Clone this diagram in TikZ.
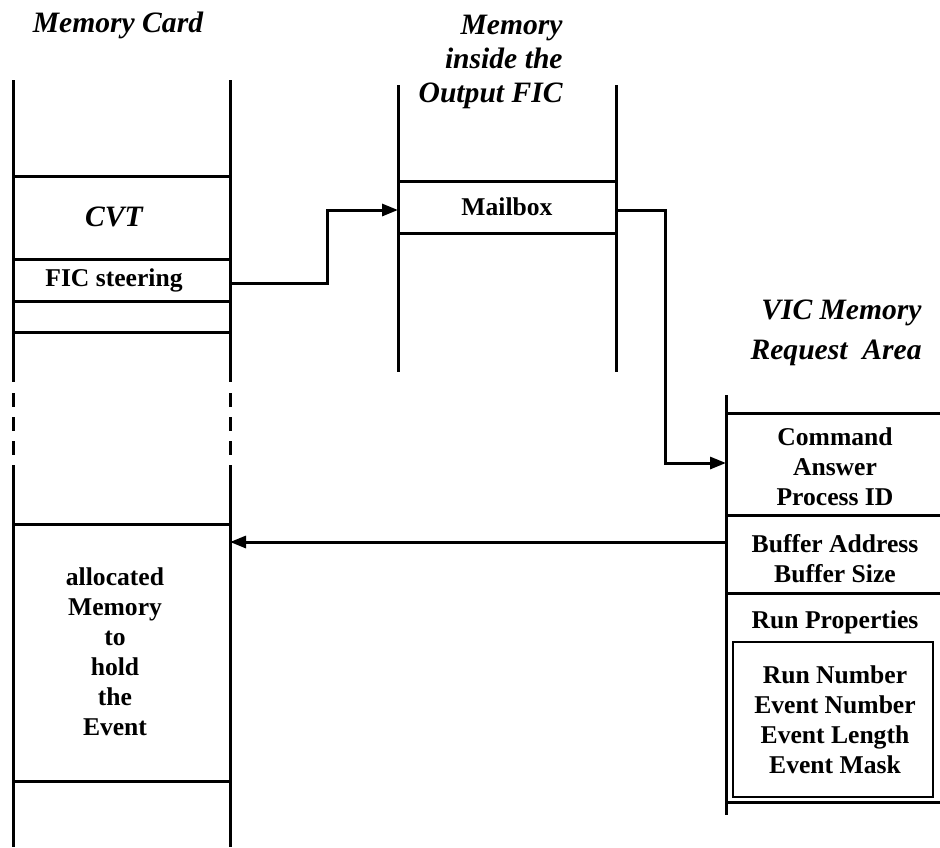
\documentclass[tikz,border=0pt]{standalone}
\usepackage{fontspec}
\setmainfont{Liberation Serif}
\usetikzlibrary{arrows.meta,positioning}
\newcommand{\lblsize}{\fontsize{12.8}{15}\selectfont}
\newcommand{\ttlsize}{\fontsize{14.8}{17}\selectfont}
\tikzset{
  wall/.style={line width=1.5pt},
  brk/.style={line width=1.5pt, dash pattern=on 7pt off 5pt},
  innerbox/.style={line width=1pt},
  arr/.style={line width=1.5pt, -{Triangle[length=8pt,width=6pt]}},
  lbl/.style={font=\lblsize\bfseries, align=center, inner sep=0pt},
  ttl/.style={font=\ttlsize\bfseries\itshape, inner sep=0pt},
}
\begin{document}
\begin{tikzpicture}[x=0.5pt,y=-0.5pt]
\useasboundingbox (0,0) rectangle (940,847);
% Memory Card column, broken in the middle
\foreach \x in {13,230} {
  \draw[wall] (\x,80) -- (\x,382);
  \draw[brk] (\x,393) -- (\x,455);
  \draw[wall] (\x,465) -- (\x,847);
}
\foreach \y in {176,259,301,332,524,781}
  \draw[wall] (13,\y) -- (230,\y);
% Memory inside the Output FIC
\foreach \x in {398,616}
  \draw[wall] (\x,85) -- (\x,372);
\foreach \y in {181,233}
  \draw[wall] (398,\y) -- (616,\y);
% VIC Memory Request Area
\draw[wall] (726,395) -- (726,815);
\foreach \y in {413,515,593,802}
  \draw[wall] (726,\y) -- (940,\y);
\draw[innerbox] (733,642) rectangle (933,797);
% titles
\node[ttl] (cardttl) at (118,25) {Memory Card};
\node[ttl, align=right, anchor=east] (ficttl) at (563,62) {Memory\\inside the\\Output FIC};
\node[ttl, align=right, anchor=east] (victtl) at (922,333) {VIC Memory\\[3pt]Request~ Area};
% cell texts
\node[ttl] (cvt) at (114,217) {CVT};
\node[lbl] (fic) at (114,280) {FIC steering};
\node[lbl] (alloc) at (115,652) {allocated\\Memory\\to\\hold\\the\\Event};
\node[lbl] (mailbox) at (507,207) {Mailbox};
\node[lbl] (cmd) at (835,467) {Command\\Answer\\Process ID};
\node[lbl] (buf) at (835,559) {Buffer Address\\Buffer Size};
\node[lbl] (runprop) at (835,622) {Run Properties};
\node[lbl] (runlist) at (835,720) {Run Number\\Event Number\\Event Length\\Event Mask};
% connector ends on the column walls
\coordinate (ficout) at (230,283);
\coordinate (mbin) at (398,210);
\coordinate (mbout) at (616,210);
\coordinate (reqin) at (726,463);
\coordinate (bufout) at (726,542);
\coordinate (allocin) at (230,542);
% arrows
\draw[arr] (ficout) -- ++(97,0) |- (mbin);
\draw[arr] (mbout) -- ++(49,0) |- (reqin);
\draw[arr] (bufout) -- (allocin);
\end{tikzpicture}
\end{document}
